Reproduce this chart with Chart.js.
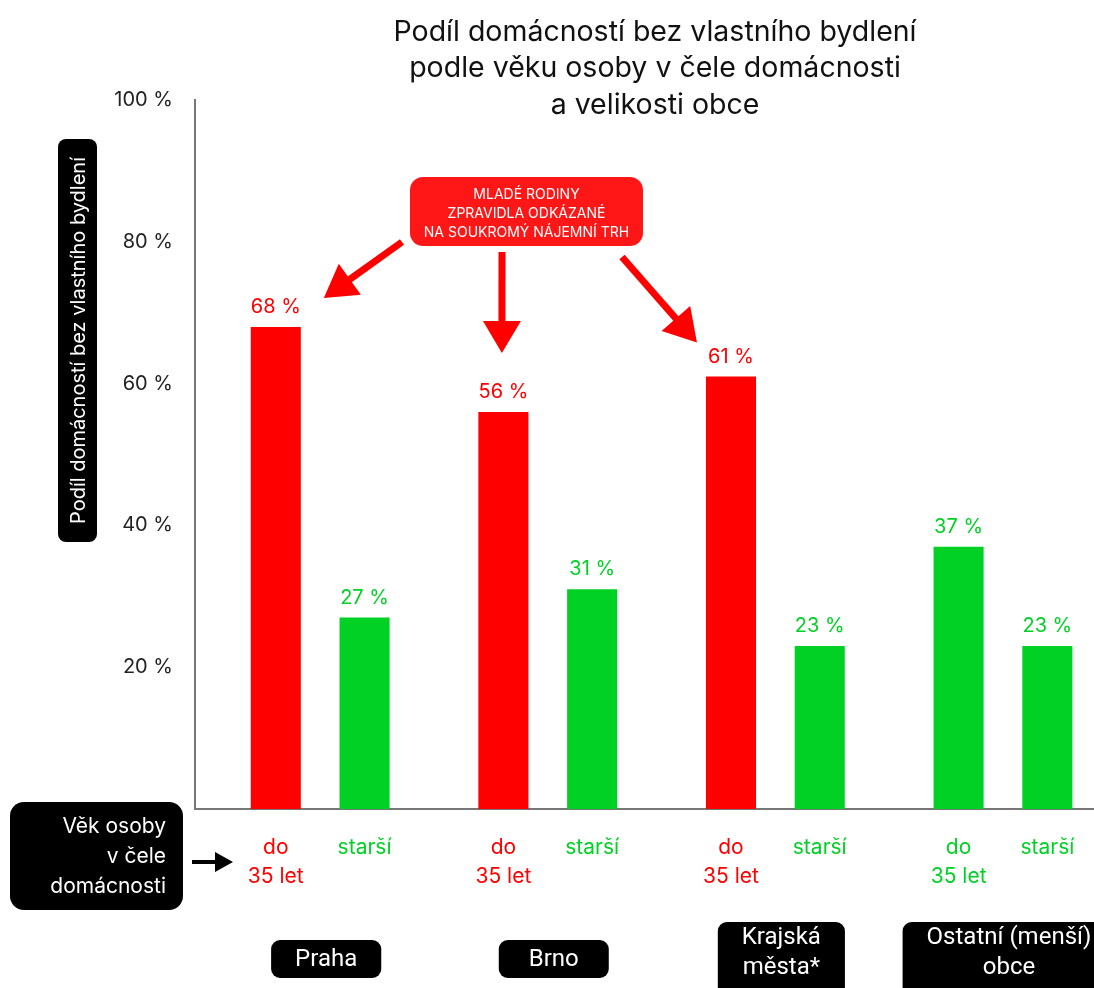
<!DOCTYPE html>
<html>
<head>
<meta charset="utf-8">
<script src="https://cdn.jsdelivr.net/npm/chart.js@4/dist/chart.umd.min.js"></script>
<style>
  html, body { margin: 0; padding: 0; background: #fff; }
  #wrap { width: 1094px; height: 988px; position: relative; overflow: hidden; }
</style>
</head>
<body>
<div id="wrap"><canvas id="chart" width="1094" height="988"></canvas></div>
<script>
// data
const groups = [["Praha"], ["Brno"], ["Krajská", "města*"], ["Ostatní (menší)", "obce"]];
const groupIndex = [0, 1, 2, 3];
const youngLabel = ["do", "35 let"];
const olderLabel = ["starší"];
const youngValues = [68, 56, 61, 37];
const olderValues = [27, 31, 23, 23];
const titleLines = ["Podíl domácností bez vlastního bydlení", "podle věku osoby v čele domácnosti", "a velikosti obce"];
const yTitle = "Podíl domácností bez vlastního bydlení";
const rowTitle = ["Věk osoby", "v čele", "domácnosti"];
const calloutLines = ["MLADÉ RODINY", "ZPRAVIDLA ODKÁZANÉ", "NA SOUKROMÝ NÁJEMNÍ TRH"];

const RED = "#ff0000";
const GREEN = "#00d124";
const youngColors = [RED, RED, RED, GREEN];
const olderColors = [GREEN, GREEN, GREEN, GREEN];
const FONT = "Inter, 'Noto Sans', sans-serif";

const roundBox = (ctx, x, y, w, h, r, color) => {
  ctx.beginPath();
  ctx.roundRect(x, y, w, h, r);
  ctx.fillStyle = color;
  ctx.fill();
};

const arrow = (ctx, x1, y1, x2, y2, color, lw, headLen, headW) => {
  const ang = Math.atan2(y2 - y1, x2 - x1);
  const bx = x2 - headLen * Math.cos(ang);
  const by = y2 - headLen * Math.sin(ang);
  ctx.strokeStyle = color;
  ctx.fillStyle = color;
  ctx.lineWidth = lw;
  ctx.beginPath();
  ctx.moveTo(x1, y1);
  ctx.lineTo(bx + Math.cos(ang), by + Math.sin(ang));
  ctx.stroke();
  ctx.beginPath();
  ctx.moveTo(x2, y2);
  ctx.lineTo(bx + (headW / 2) * Math.sin(ang), by - (headW / 2) * Math.cos(ang));
  ctx.lineTo(bx - (headW / 2) * Math.sin(ang), by + (headW / 2) * Math.cos(ang));
  ctx.closePath();
  ctx.fill();
};

const decorPlugin = {
  id: "decor",
  afterDraw(chart) {
    const ctx = chart.ctx;
    const area = chart.chartArea;
    const young = chart.getDatasetMeta(0).data;
    const older = chart.getDatasetMeta(1).data;
    ctx.save();

    // title
    ctx.fillStyle = "#111";
    ctx.font = "28.5px " + FONT;
    ctx.textAlign = "center";
    ctx.textBaseline = "middle";
    titleLines.forEach((t, i) => ctx.fillText(t, 655, 32 + i * 36.5));

    // y axis title in a black pill
    roundBox(ctx, 58, 139, 39, 403, 8, "#000");
    ctx.save();
    ctx.translate(78, 340.5);
    ctx.rotate(-Math.PI / 2);
    ctx.fillStyle = "#fff";
    ctx.font = "20px " + FONT;
    ctx.fillText(yTitle, 0, 1);
    ctx.restore();

    // values above bars + labels under bars
    const drawBarText = (bars, values, colors, lines) => {
      bars.forEach((bar, i) => {
        ctx.fillStyle = colors[i];
        ctx.font = "20px " + FONT;
        ctx.textBaseline = "alphabetic";
        ctx.fillText(values[i] + " %", bar.x, bar.y - 14);
        ctx.textBaseline = "middle";
        ctx.font = "21px " + FONT;
        lines.forEach((l, k) => ctx.fillText(l, bar.x, area.bottom + 39 + k * 29));
      });
    };
    drawBarText(young, youngValues, youngColors, youngLabel);
    drawBarText(older, olderValues, olderColors, olderLabel);

    // group boxes
    ctx.font = "24px Roboto, sans-serif";
    groups.forEach((g, i) => {
      const cx = (young[i].x + older[i].x) / 2 + 6;
      const w = Math.max(110, Math.max(...g.map((t) => ctx.measureText(t).width)) + 48);
      const h = g.length === 1 ? 38 : 80;
      const top = g.length === 1 ? 940 : 922;
      roundBox(ctx, cx - w / 2, top, w, h, 9, "#000");
      ctx.fillStyle = "#fff";
      ctx.textBaseline = "middle";
      g.forEach((t, k) => {
        const y = g.length === 1 ? top + h / 2 + 1 : top + 16 + k * 30;
        ctx.fillText(t, cx, y);
      });
    });

    // row title box + arrow
    roundBox(ctx, 10, 802, 173, 108, 14, "#000");
    ctx.fillStyle = "#fff";
    ctx.font = "21px " + FONT;
    ctx.textAlign = "right";
    rowTitle.forEach((t, k) => ctx.fillText(t, 166, 827 + k * 30));
    arrow(ctx, 192, 862, 233, 862, "#000", 4, 18, 20);

    // callout
    roundBox(ctx, 410, 177, 233, 69, 13, "#ff1616");
    ctx.fillStyle = "#fff";
    ctx.textAlign = "center";
    ctx.font = "14px " + FONT;
    calloutLines.forEach((t, k) => ctx.fillText(t, 526.5, 195 + k * 19));
    arrow(ctx, 402, 242, young[0].x + 48, young[0].y - 29, RED, 7, 32, 38);
    arrow(ctx, 502, 252, young[1].x - 1.5, young[1].y - 59, RED, 7, 32, 38);
    arrow(ctx, 622, 257, young[2].x - 34, young[2].y - 34, RED, 7, 32, 38);

    ctx.restore();
  },
};

new Chart(document.getElementById("chart"), {
  type: "bar",
  data: {
    datasets: [
      {
        label: "do 35 let",
        data: youngValues.map((v, i) => ({ x: groupIndex[i], y: v })),
        backgroundColor: youngColors,
        categoryPercentage: 0.78,
        barPercentage: 0.564,
      },
      {
        label: "starší",
        data: olderValues.map((v, i) => ({ x: groupIndex[i], y: v })),
        backgroundColor: olderColors,
        categoryPercentage: 0.78,
        barPercentage: 0.564,
      },
    ],
  },
  options: {
    responsive: false,
    animation: false,
    layout: { padding: { top: 100, bottom: 179, left: 0, right: 0 } },
    plugins: {
      legend: { display: false },
      tooltip: { enabled: false },
      title: { display: false },
    },
    scales: {
      x: {
        type: "linear",
        offset: false,
        min: -0.55,
        max: 3.4,
        grid: { display: false },
        border: { display: true, color: "#777", width: 2 },
        ticks: { display: false },
        afterBuildTicks: (scale) => {
          scale.ticks = groupIndex.map((v) => ({ value: v }));
        },
        afterFit: (scale) => { scale.height = 0; },
      },
      y: {
        min: 0,
        max: 100,
        grid: { display: false },
        border: { display: true, color: "#777", width: 2 },
        ticks: {
          stepSize: 20,
          padding: 14,
          color: "#222",
          font: { family: FONT, size: 20 },
          callback: (v) => (v === 0 ? "" : v + " %"),
        },
        afterFit: (scale) => { scale.width = 195; },
      },
    },
  },
  plugins: [decorPlugin],
});
</script>
</body>
</html>
